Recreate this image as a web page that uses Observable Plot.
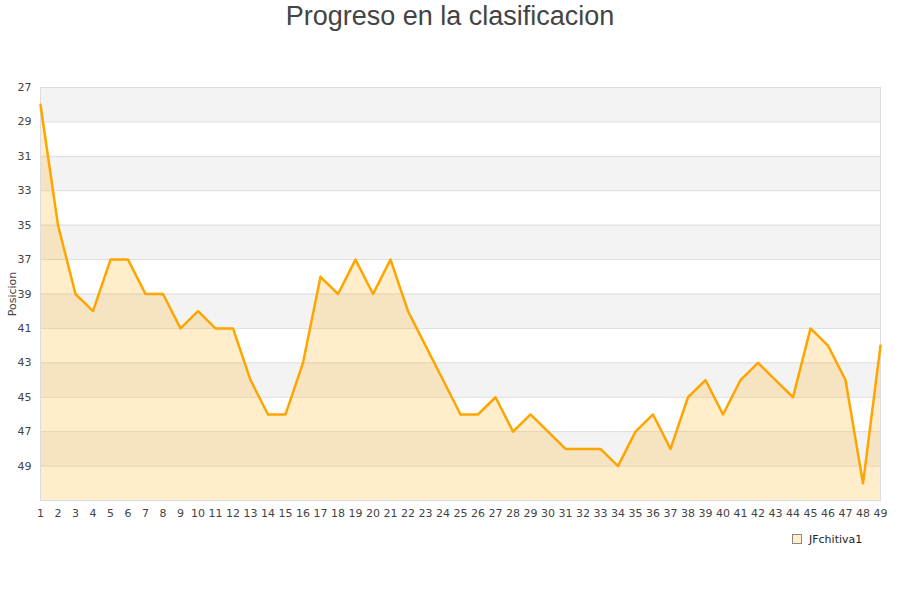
<!DOCTYPE html>
<html>
<head>
<meta charset="utf-8">
<script src="https://cdn.jsdelivr.net/npm/d3@7"></script>
<script src="https://cdn.jsdelivr.net/npm/@observablehq/plot@0.6"></script>
<style>
  body { margin: 0; background: #fff; font-family: "DejaVu Sans", sans-serif; }
  #wrap { position: relative; width: 900px; height: 600px; }
  #titulo { height: 32px; text-align: center; font-family: "Liberation Sans", Arial, sans-serif;
            font-size: 27px; color: #444; line-height: 32px; }
  #leyenda { position: absolute; left: 792px; top: 533px; font-size: 11px; color: #222; }
  #leyenda span.sq { display: inline-block; width: 8px; height: 8px; background: #ffedcc;
                     border: 1px solid #888; margin-right: 7px; vertical-align: -1px; }
</style>
</head>
<body>
<div id="wrap">
  <div id="titulo">Progreso en la clasificacion</div>
  <div id="chart"></div>
  <div id="leyenda"><span class="sq"></span>JFchitiva1</div>
</div>
<script>
  // jornadas y posicion de JFchitiva1
  const jornadas = d3.range(1, 50)
  const posiciones = [28, 35, 39, 40, 37, 37, 39, 39, 41, 40,
                      41, 41, 44, 46, 46, 43, 38, 39, 37, 39,
                      37, 40, 42, 44, 46, 46, 45, 47, 46, 47,
                      48, 48, 48, 49, 47, 46, 48, 45, 44, 46,
                      44, 43, 44, 45, 41, 42, 44, 50, 42]
  const yTicks = [27, 29, 31, 33, 35, 37, 39, 41, 43, 45, 47, 49]

  const data = jornadas.map((j, i) => ({jornada: j, pos: posiciones[i]}))
  // bandas grises alternas
  const bandas = yTicks.filter((d, i) => i % 2 === 0).map(d => ({y1: d, y2: d + 2}))

  const chart = Plot.plot({
    width: 900,
    height: 498,
    marginTop: 55,
    marginBottom: 30,
    marginLeft: 40,
    marginRight: 20,
    style: {fontSize: "11px", color: "#444", fontFamily: "DejaVu Sans, sans-serif"},
    x: {domain: [1, 49]},
    y: {domain: [27, 51], reverse: true},
    marks: [
      Plot.rectY(bandas, {x1: 1, x2: 49, y1: "y1", y2: "y2", fill: "#f3f3f3"}),
      Plot.ruleY(yTicks, {stroke: "#dddddd"}),
      Plot.areaY(data, {x: "jornada", y1: 51, y2: "pos", fill: "orange", fillOpacity: 0.2}),
      Plot.frame({stroke: "#dddddd"}),
      Plot.line(data, {x: "jornada", y: "pos", stroke: "#ffa500", strokeWidth: 2.5}),
      Plot.axisX({ticks: jornadas, tickFormat: d => d, tickSize: 0, tickPadding: 9, label: null}),
      Plot.axisY({ticks: yTicks, tickSize: 0, tickPadding: 9, label: "Posicion",
                  labelAnchor: "center", labelArrow: "none", labelOffset: 32})
    ]
  })

  d3.select('#chart').append(() => chart)
</script>
</body>
</html>
